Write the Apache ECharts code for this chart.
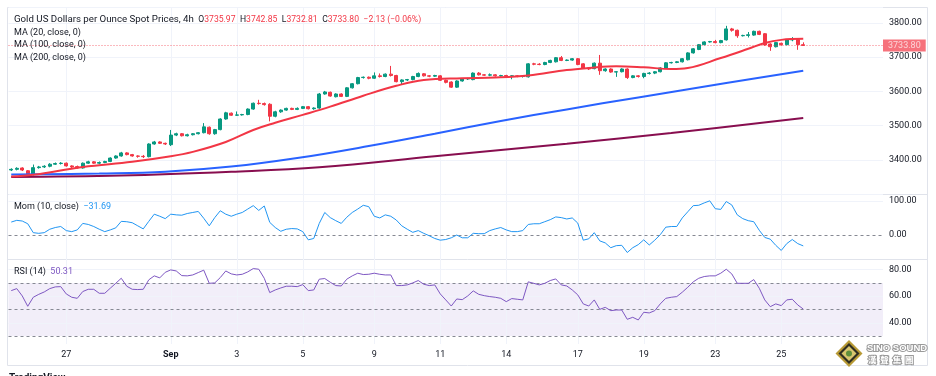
<!DOCTYPE html>
<html>
<head>
<meta charset="utf-8">
<title>Gold 4h</title>
<script src="https://cdn.jsdelivr.net/npm/echarts@6.0.0/dist/echarts.min.js"></script>
<style>
html, body { margin: 0; padding: 0; background: #fff; }
#main { width: 936px; height: 376px; }
</style>
</head>
<body>
<div id="main"></div>
<script>
// 4h candles (left to right)
const openP = [
  3370, 3372, 3376, 3368, 3357, 3377, 3379, 3381, 3387, 3389,
  3390, 3382, 3380, 3376, 3390, 3394, 3390, 3392, 3395, 3405,
  3411, 3420, 3415, 3411, 3410, 3409, 3446, 3452, 3448, 3444,
  3472, 3476, 3470, 3473, 3476, 3479, 3495, 3476, 3488, 3519,
  3536, 3530, 3531, 3532, 3548, 3565, 3564, 3562, 3527, 3540,
  3545, 3550, 3547, 3550, 3555, 3549, 3551, 3592, 3597, 3584,
  3592, 3585, 3610, 3622, 3640, 3641, 3638, 3645, 3643, 3650,
  3646, 3628, 3633, 3634, 3643, 3651, 3645, 3644, 3645, 3632,
  3627, 3612, 3630, 3636, 3634, 3653, 3648, 3647, 3648, 3645,
  3646, 3644, 3645, 3643, 3642, 3680, 3679, 3678, 3684, 3686,
  3698, 3690, 3691, 3695, 3680, 3668, 3666, 3682, 3660, 3665,
  3656, 3657, 3665, 3640, 3645, 3643, 3652, 3653, 3657, 3668,
  3683, 3684, 3686, 3692, 3712, 3722, 3736, 3744, 3745, 3742,
  3750, 3782, 3778, 3762, 3763, 3764, 3775, 3768, 3738, 3730,
  3740, 3736, 3750, 3751, 3735.97
];
const closeP = [
  3372, 3375, 3370, 3357, 3377, 3379, 3381, 3387, 3389, 3390,
  3382, 3379, 3376, 3390, 3394, 3390, 3392, 3395, 3405, 3411,
  3420, 3415, 3411, 3410, 3409, 3446, 3452, 3448, 3446, 3472,
  3476, 3470, 3473, 3476, 3479, 3496, 3476, 3488, 3519, 3537,
  3530, 3531, 3532, 3548, 3565, 3564, 3561, 3527, 3540, 3545,
  3550, 3547, 3550, 3555, 3549, 3551, 3592, 3598, 3586, 3592,
  3585, 3610, 3622, 3640, 3641, 3638, 3645, 3643, 3650, 3646,
  3628, 3633, 3634, 3643, 3652, 3645, 3644, 3646, 3632, 3626,
  3612, 3630, 3636, 3637, 3653, 3648, 3647, 3648, 3645, 3646,
  3644, 3645, 3643, 3644, 3680, 3679, 3678, 3684, 3690, 3698,
  3690, 3691, 3695, 3678, 3668, 3665, 3682, 3660, 3665, 3656,
  3657, 3665, 3640, 3645, 3643, 3652, 3653, 3657, 3668, 3683,
  3684, 3686, 3695, 3712, 3724, 3736, 3744, 3745, 3742, 3748,
  3782, 3778, 3762, 3763, 3765, 3775, 3766, 3735, 3730, 3742,
  3736, 3750, 3751, 3735.93, 3733.80
];
const lowP = [
  3367, 3369, 3367, 3353, 3354, 3374, 3376, 3378, 3385, 3386,
  3380, 3376, 3374, 3374, 3388, 3388, 3387, 3390, 3393, 3403,
  3409, 3413, 3409, 3406, 3405, 3407, 3444, 3446, 3443, 3440,
  3469, 3468, 3468, 3471, 3474, 3477, 3473, 3473, 3486, 3517,
  3528, 3528, 3529, 3530, 3546, 3561, 3558, 3512, 3524, 3537,
  3543, 3545, 3545, 3548, 3547, 3546, 3549, 3590, 3584, 3582,
  3583, 3583, 3608, 3620, 3637, 3635, 3636, 3640, 3641, 3643,
  3626, 3620, 3630, 3632, 3641, 3643, 3641, 3642, 3630, 3623,
  3610, 3610, 3628, 3633, 3632, 3646, 3645, 3644, 3643, 3643,
  3642, 3635, 3641, 3640, 3640, 3676, 3676, 3676, 3682, 3684,
  3688, 3688, 3689, 3676, 3666, 3662, 3664, 3648, 3657, 3654,
  3642, 3655, 3636, 3638, 3640, 3638, 3649, 3650, 3655, 3666,
  3681, 3682, 3684, 3690, 3710, 3720, 3734, 3742, 3740, 3740,
  3748, 3774, 3756, 3760, 3757, 3762, 3764, 3733, 3718, 3728,
  3733, 3734, 3746, 3721, 3732.81
];
const highP = [
  3375, 3378, 3378, 3370, 3386, 3382, 3384, 3390, 3392, 3393,
  3392, 3384, 3383, 3392, 3397, 3396, 3395, 3397, 3407, 3413,
  3423, 3422, 3417, 3413, 3414, 3448, 3455, 3454, 3450, 3487,
  3479, 3478, 3476, 3478, 3481, 3507, 3497, 3490, 3521, 3540,
  3538, 3541, 3534, 3550, 3567, 3575, 3567, 3565, 3543, 3547,
  3552, 3552, 3553, 3557, 3557, 3553, 3595, 3601, 3599, 3594,
  3594, 3612, 3624, 3642, 3643, 3643, 3655, 3652, 3652, 3674,
  3648, 3635, 3636, 3645, 3655, 3653, 3647, 3648, 3647, 3634,
  3629, 3632, 3638, 3639, 3655, 3656, 3650, 3652, 3650, 3648,
  3648, 3647, 3647, 3646, 3682, 3683, 3682, 3686, 3692, 3700,
  3703, 3693, 3697, 3697, 3682, 3670, 3684, 3706, 3667, 3667,
  3659, 3667, 3667, 3647, 3647, 3654, 3656, 3659, 3670, 3685,
  3686, 3688, 3697, 3714, 3726, 3738, 3746, 3747, 3750, 3750,
  3791, 3785, 3780, 3765, 3773, 3777, 3777, 3770, 3740, 3744,
  3742, 3752, 3758, 3753, 3742.85
];

// moving averages read at a few bars each: [bar index, value]
const ma20Pts = [[0, 3351], [4, 3356], [13, 3379], [22, 3394], [29, 3410], [33, 3423], [39, 3452],
  [44, 3487], [48, 3508], [53, 3531], [58, 3555], [64, 3587], [70, 3616], [75, 3633], [82, 3638],
  [88, 3640], [94, 3646], [101, 3662], [105, 3668], [110, 3673], [115, 3670], [120, 3665],
  [123, 3668], [129, 3697], [134, 3724], [137, 3741], [140, 3750], [144, 3753]];
const ma100Pts = [[0, 3357], [16, 3360], [28, 3365], [40, 3380], [52, 3405], [65, 3440], [77, 3476],
  [89, 3513], [101, 3547], [114, 3582], [130, 3624], [144, 3660]];
const ma200Pts = [[0, 3350], [20, 3354], [40, 3365], [56, 3378], [77, 3410], [101, 3447],
  [120, 3478], [144, 3522]];

// Momentum (10, close)
const mom = [
  38, 43, 41, 33, 7, 5, 7, 17, 22, 25,
  13, 10, 15, 34, 31, 25, 17, 10, 15, 21,
  40, 39, 36, 27, 18, 40, 61, 55, 48, 61,
  59, 58, 63, 66, 69, 49, 27, 51, 71, 61,
  55, 61, 66, 76, 86, 72, 85, 37, 22, 11,
  17, 19, 18, 10, -14, -10, 34, 66, 51, 42,
  34, 52, 66, 76, 87, 83, 55, 50, 59, 55,
  44, 27, 17, 8, 13, 5, -2, -10, -15, -13,
  -8, 0, -8, -8, 5, 4, 4, 13, 18, 22,
  15, 10, 10, 13, 31, 33, 33, 39, 45, 53,
  51, 47, 50, 35, -15, -11, 7, -17, -23, -37,
  -31, -30, -51, -37, -28, -14, -29, -15, 1, 23,
  25, 25, 50, 68, 86, 87, 94, 100, 77, 75,
  98, 88, 59, 48, 42, 39, 14, -7, -12, -30,
  -45, -25, -13, -25, -31.69
];

// RSI (14)
const rsi = [
  64.2, 65.7, 60.2, 52.4, 59.2, 61.4, 63.2, 65.7, 67, 67.2,
  61.7, 59.2, 58.4, 63.5, 65.2, 65.2, 62.2, 62.2, 66, 69.7,
  73.5, 67.5, 65.2, 65, 65.2, 72.3, 75.3, 73.8, 78, 79.8,
  79, 75.5, 75.3, 76, 77.8, 79.6, 69.7, 70, 74, 79,
  76.8, 76, 76.5, 78.3, 80.8, 80.3, 73.5, 62.7, 64.7, 66.2,
  67.5, 67.5, 67.2, 68.7, 64.2, 64.7, 72.8, 73.3, 70.5, 68,
  67.7, 72.8, 75.3, 77.3, 76.3, 76.5, 77.3, 76.5, 76, 76,
  68, 68, 68.5, 70, 71.8, 69, 68, 68.5, 61.7, 57.2,
  52.6, 57.9, 57.4, 60.2, 64, 61.4, 60.4, 59.7, 59.2, 58.4,
  55.9, 58.2, 57.7, 57.2, 70.8, 69.7, 68.5, 69.7, 71.8, 73,
  68.5, 67.7, 64.7, 61, 54.2, 52.6, 57.2, 50.1, 51.6, 49.1,
  49.6, 49.6, 42.6, 44.1, 42.1, 47.9, 47.4, 49.1, 54.2, 58.4,
  59.2, 59.7, 63, 66.7, 70.8, 73.5, 74.8, 75.3, 75.3, 77.3,
  80.3, 76.8, 69.7, 69.7, 69.7, 72.5, 66, 57.2, 52.1, 54.2,
  52.9, 57.2, 57.7, 53.4, 50.31
];

// time axis labels and the bars they sit on
const tickSlots = [10, 29, 41, 53, 66, 78, 90, 103, 115, 128, 140];
const tickLabels = ['27', 'Sep', '3', '5', '9', '11', '14', '17', '19', '23', '25'];

const SLOTS = 159; // bars + empty space on the right
const cats = [];
for (let i = 0; i < SLOTS; i++) cats.push(String(i));

const candles = openP.map((o, i) => [o, closeP[i], lowP[i], highP[i]]);
const last = openP.length - 1;
const minus = v => (v < 0 ? '\u2212' : '') + Math.abs(v).toFixed(2);
const chg = closeP[last] - closeP[last - 1];
const pct = chg / closeP[last - 1] * 100;

const FONT = 'Roboto';
const TXT = '#131722';
const GRID = '#f0f3fa';
const DASH = '#868993';

const vLines = tickSlots.map(s => ({ xAxis: s }));
const dashed = v => ({ yAxis: v, lineStyle: { color: DASH, type: [3, 3], width: 1 } });

function valueBox(v, bg) {
  return {
    yAxis: v,
    lineStyle: { width: 0, opacity: 0 },
    label: {
      show: true, position: 'end', distance: 0, formatter: minus(v),
      color: '#fff', backgroundColor: bg, padding: [2, 5, 1, 5],
      fontSize: 9, fontFamily: FONT
    }
  };
}

function decor(idx, extra, area) {
  const s = {
    type: 'line', xAxisIndex: idx, yAxisIndex: idx, data: [], silent: true,
    markLine: {
      z: 1, silent: true, symbol: 'none', animation: false, label: { show: false },
      lineStyle: { color: GRID, width: 1, type: 'solid' },
      data: vLines.concat(extra)
    }
  };
  if (area) s.markArea = area;
  return s;
}

function xAx(idx, showLabel) {
  return {
    type: 'category', gridIndex: idx, data: cats, boundaryGap: true,
    axisLine: { show: false }, axisTick: { show: false }, splitLine: { show: false },
    axisLabel: {
      show: showLabel, margin: 6, fontSize: 9, fontFamily: FONT, color: TXT,
      interval: i => tickSlots.indexOf(i) >= 0,
      formatter: (v, i) => {
        const k = tickSlots.indexOf(i);
        if (k < 0) return '';
        return tickLabels[k] === 'Sep' ? '{b|Sep}' : tickLabels[k];
      },
      rich: { b: { fontWeight: 'bold', fontSize: 9, fontFamily: FONT, color: TXT } }
    }
  };
}

function yAx(idx, min, max, interval, show) {
  return {
    type: 'value', gridIndex: idx, position: 'right', min: min, max: max, interval: interval,
    axisLine: { show: false }, axisTick: { show: false },
    splitLine: { show: idx === 0, lineStyle: { color: GRID } },
    axisLabel: {
      margin: 6, fontSize: 9, fontFamily: FONT, color: TXT,
      showMinLabel: idx !== 0, showMaxLabel: idx !== 0,
      formatter: v => (show.indexOf(v) >= 0 ? v.toFixed(2) : '')
    }
  };
}

const head = '{t|Gold US Dollars per Ounce Spot Prices, 4h}  {n|O}{r|' + openP[last].toFixed(2) +
  '}  {n|H}{r|' + highP[last].toFixed(2) + '}  {n|L}{r|' + lowP[last].toFixed(2) +
  '}  {n|C}{r|' + closeP[last].toFixed(2) + '}  {r|' + minus(chg) + ' (' + minus(pct) + '%)}';

function label(text, top, rich) {
  return {
    left: 14, top: top, padding: 0, text: text,
    textStyle: { fontSize: 9, fontWeight: 'normal', fontFamily: FONT, color: TXT, lineHeight: 11, rich: rich }
  };
}
const richBase = {
  t: { fontSize: 9.7, fontFamily: FONT, color: TXT },
  n: { fontSize: 8.6, fontFamily: FONT, color: TXT },
  r: { fontSize: 8.6, fontFamily: FONT, color: '#f23645' },
  m: { fontSize: 9, fontFamily: FONT, color: TXT },
  b: { fontSize: 9, fontFamily: FONT, color: '#2196f3' },
  p: { fontSize: 9, fontFamily: FONT, color: '#7e57c2' }
};

const chart = echarts.init(document.getElementById('main'));
chart.setOption({
  animation: false,
  backgroundColor: '#fff',
  title: [
    label(head, 14.5, richBase),
    label('MA (20, close, 0)', 27.2, richBase),
    label('MA (100, close, 0)', 38.8, richBase),
    label('MA (200, close, 0)', 51.8, richBase),
    label('{m|Mom (10, close)}  {b|' + minus(mom[last]) + '}', 201, richBase),
    label('{m|RSI (14)}  {p|' + rsi[last].toFixed(2) + '}', 266, richBase)
  ],
  grid: [
    { left: 8.5, right: 53, top: 7, height: 187 },
    { left: 8.5, right: 53, top: 194, height: 65 },
    { left: 8.5, right: 53, top: 259, height: 85 }
  ],
  xAxis: [xAx(0, false), xAx(1, false), xAx(2, true)],
  yAxis: [
    yAx(0, 3300, 3846, 100, [3400, 3500, 3600, 3700, 3800]),
    yAx(1, -70, 120, 10, [0, 100]),
    yAx(2, 24, 88, 4, [40, 60, 80])
  ],
  series: [
    decor(0, []),
    decor(1, [{ yAxis: 100 }, dashed(0)]),
    decor(2, [{ yAxis: 80 }, { yAxis: 60 }, { yAxis: 40 }, dashed(70), dashed(50), dashed(30)], {
      silent: true, itemStyle: { color: 'rgba(126,87,194,0.1)' },
      data: [[{ yAxis: 30 }, { yAxis: 70 }]]
    }),
    {
      type: 'candlestick', xAxisIndex: 0, yAxisIndex: 0, data: candles, barWidth: '64%',
      itemStyle: {
        color: '#089981', color0: '#f23645',
        borderColor: '#089981', borderColor0: '#f23645', borderWidth: 1
      },
      markLine: {
        silent: true, symbol: 'none', animation: false,
        data: [{
          yAxis: closeP[last],
          lineStyle: { color: '#f23645', type: [1, 2], width: 1, opacity: 0.7 },
          label: {
            show: true, position: 'end', distance: 0, formatter: closeP[last].toFixed(2),
            color: '#fff', backgroundColor: '#f23645', padding: [2, 5, 1, 5],
            fontSize: 9, fontFamily: FONT
          }
        }]
      }
    },
    {
      type: 'line', name: 'MA200', xAxisIndex: 0, yAxisIndex: 0, data: ma200Pts, smooth: 0.4,
      showSymbol: false, lineStyle: { color: '#880e4f', width: 2 }
    },
    {
      type: 'line', name: 'MA100', xAxisIndex: 0, yAxisIndex: 0, data: ma100Pts, smooth: 0.4,
      showSymbol: false, lineStyle: { color: '#2962ff', width: 2 }
    },
    {
      type: 'line', name: 'MA20', xAxisIndex: 0, yAxisIndex: 0, data: ma20Pts, smooth: 0.4,
      showSymbol: false, lineStyle: { color: '#f23645', width: 2 }
    },
    {
      type: 'line', name: 'Mom', xAxisIndex: 1, yAxisIndex: 1, data: mom,
      showSymbol: false, lineStyle: { color: '#2196f3', width: 1 },
      markLine: { silent: true, symbol: 'none', animation: false, data: [valueBox(mom[last], '#2196f3')] }
    },
    {
      type: 'line', name: 'RSI', xAxisIndex: 2, yAxisIndex: 2, data: rsi,
      showSymbol: false, lineStyle: { color: '#7e57c2', width: 1 },
      markLine: { silent: true, symbol: 'none', animation: false, data: [valueBox(rsi[last], '#7e57c2')] }
    }
  ],
  graphic: [
    { type: 'rect', silent: true, shape: { x: 7.5, y: 7.5, width: 920, height: 358 },
      style: { fill: 'none', stroke: '#e0e3eb', lineWidth: 1 } },
    { type: 'line', silent: true, shape: { x1: 7.5, y1: 194.5, x2: 927.5, y2: 194.5 },
      style: { stroke: '#e0e3eb', lineWidth: 1 } },
    { type: 'line', silent: true, shape: { x1: 7.5, y1: 259.5, x2: 927.5, y2: 259.5 },
      style: { stroke: '#e0e3eb', lineWidth: 1 } },
    // watermark logo
    { type: 'polygon', silent: true, z: 100, shape: { points: [[849, 340], [862.5, 353.5], [849, 367], [835.5, 353.5]] },
      style: { fill: '#b89a35' } },
    { type: 'polygon', silent: true, z: 100, shape: { points: [[849, 343], [859.5, 353.5], [849, 364], [838.5, 353.5]] },
      style: { fill: '#2f2e22' } },
    { type: 'polygon', silent: true, z: 100, shape: { points: [[849, 346], [856.5, 353.5], [849, 361], [841.5, 353.5]] },
      style: { fill: '#d8c56e' } },
    { type: 'circle', silent: true, z: 100, shape: { cx: 849, cy: 353.5, r: 3 }, style: { fill: '#5f8f3c' } },
    { type: 'text', silent: true, z: 100, x: 867, y: 348,
      style: { text: 'SINO SOUND', font: 'bold 9.5px "Liberation Sans"', fill: '#ffffff', stroke: '#9a9a9a',
        lineWidth: 2, strokeFirst: true, verticalAlign: 'middle' } },
    { type: 'text', silent: true, z: 100, x: 868, y: 359.5,
      style: { text: '漢  聲  集  團', font: 'bold 8.5px "Noto Sans CJK TC"', fill: '#ffffff', stroke: '#9a9a9a',
        lineWidth: 2, strokeFirst: true, verticalAlign: 'middle' } },
    { type: 'text', silent: true, x: 9, y: 373.5,
      style: { text: 'TradingView', font: 'bold 10px Roboto', fill: TXT, verticalAlign: 'top' } }
  ]
});
</script>
</body>
</html>
